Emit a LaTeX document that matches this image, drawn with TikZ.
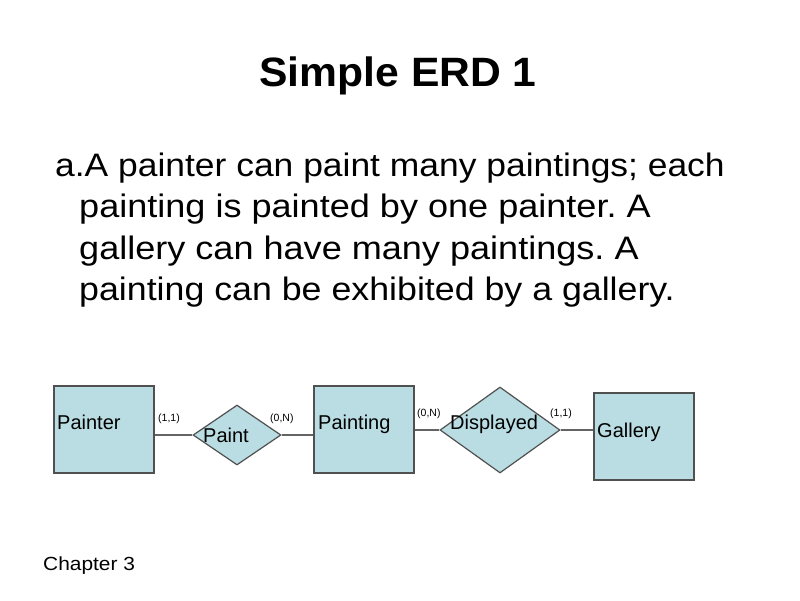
\documentclass[tikz,border=0pt]{standalone}
\usepackage{fontspec}
\setmainfont{Liberation Sans}
\usetikzlibrary{shapes.geometric}
\definecolor{boxfill}{RGB}{185,221,226}
\definecolor{boxline}{RGB}{80,80,80}
\definecolor{connline}{RGB}{100,100,100}
\frenchspacing
\begin{document}
\begin{tikzpicture}[x=1pt,y=-1pt,
  entity/.style={draw=boxline,line width=1.2pt,fill=boxfill,rectangle,inner sep=0pt,minimum width=100pt,minimum height=87pt},
  relation/.style={draw=boxline,line width=1.2pt,fill=boxfill,diamond,inner sep=0pt},
  conn/.style={draw=connline,line width=1.6pt},
  lbl/.style={anchor=base west,inner sep=0pt,font=\fontsize{20}{24}\selectfont},
  card/.style={anchor=base west,inner sep=0pt,font=\fontsize{10.5}{12}\selectfont},
  body/.style={anchor=base west,inner sep=0pt,font=\fontsize{32.5}{38}\selectfont}]
\useasboundingbox (0,0) rectangle (800,600);
\node[anchor=base,inner sep=0pt,font=\fontsize{41}{48}\selectfont\bfseries] (title) at (398,86) {\scalebox{1.04}[1]{Simple ERD 1}};
\node[body] (l1) at (55,176) {\scalebox{1.09}[1]{a.A painter can paint many paintings; each}};
\node[body] (l2) at (79,217.5) {\scalebox{1.11}[1]{painting is painted by one painter. A}};
\node[body] (l3) at (79,259) {\scalebox{1.11}[1]{gallery can have many paintings. A}};
\node[body] (l4) at (79,300.5) {\scalebox{1.1}[1]{painting can be exhibited by a gallery.}};
% entities and relations
\node[entity] (painter) at (104,429.5) {};
\node[relation,minimum width=88pt,minimum height=60pt] (paint) at (237,435) {};
\node[entity] (painting) at (364,429.5) {};
\node[relation,minimum width=120pt,minimum height=86pt] (displayed) at (500,430) {};
\node[entity] (gallery) at (644,436.5) {};
% connectors
\draw[conn] (painter.east |- paint.west) -- (paint.west);
\draw[conn] (paint.east) -- (paint.east -| painting.west);
\draw[conn] (painting.east |- displayed.west) -- (displayed.west);
\draw[conn] (displayed.east) -- (displayed.east -| gallery.west);
% labels
\node[lbl] (tpainter) at (57,429) {Painter};
\node[lbl] (tpaint) at (203,442) {Paint};
\node[lbl] (tpainting) at (318,429) {Painting};
\node[lbl] (tdisplayed) at (450,429) {Displayed};
\node[lbl] (tgallery) at (597,437) {Gallery};
\node[card] (c1) at (158,421) {(1,1)};
\node[card] (c2) at (270,421) {(0,N)};
\node[card] (c3) at (417,416) {(0,N)};
\node[card] (c4) at (550,416) {(1,1)};
\node[anchor=base west,inner sep=0pt,font=\fontsize{19}{23}\selectfont] (chap) at (43,570) {\scalebox{1.1}[1]{Chapter 3}};
\end{tikzpicture}
\end{document}
